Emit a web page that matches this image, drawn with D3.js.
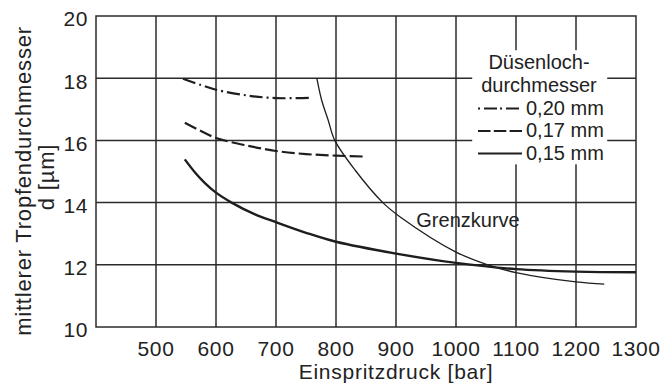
<!DOCTYPE html>
<html>
<head>
<meta charset="utf-8">
<script src="https://cdn.jsdelivr.net/npm/d3@7"></script>
<style>
  body { margin: 0; background: #fff; }
  text { font-family: "Liberation Sans", Arial, sans-serif; fill: #222; }
</style>
</head>
<body>
<svg id="chart" width="672" height="383"></svg>
<script>
// tick values
const xTicks = [500, 600, 700, 800, 900, 1000, 1100, 1200, 1300];
const yTicks = [10, 12, 14, 16, 18, 20];

// curves (pressure in bar, diameter in µm)
const d020X = [545, 575, 600, 650, 700, 755];
const d020Y = [17.98, 17.78, 17.63, 17.45, 17.36, 17.37];

const d017X = [548, 575, 600, 650, 700, 750, 800, 850];
const d017Y = [16.57, 16.30, 16.08, 15.84, 15.66, 15.56, 15.51, 15.48];

const d015X = [548, 565, 582, 600, 626, 665, 700, 750, 800, 900, 1000, 1100, 1200, 1300];
const d015Y = [15.39, 14.97, 14.62, 14.32, 14.0, 13.62, 13.37, 13.03, 12.74, 12.36, 12.06, 11.86, 11.78, 11.76];

const grenzX = [768, 776, 787, 798, 832, 878, 907, 1000, 1053, 1100, 1200, 1247];
const grenzY = [18.0, 17.3, 16.65, 16.0, 15.04, 14.0, 13.54, 12.41, 12.0, 11.75, 11.45, 11.38];

const legendLabels = ["0,20 mm", "0,17 mm", "0,15 mm"];
const legendDash = ["13,4,2,4", "13,4", null];

const svg = d3.select("#chart");
const margin = { left: 96, right: 36, top: 16, bottom: 56 };
const width = 672 - margin.left - margin.right;
const height = 383 - margin.top - margin.bottom;

const x = d3.scaleLinear().domain([400, 1300]).range([margin.left, margin.left + width]);
const y = d3.scaleLinear().domain([10, 20]).range([margin.top + height, margin.top]);

const gridColor = "#2b2b2b";

// grid
svg.append("g").selectAll("line.v")
  .data(xTicks.slice(0, -1))
  .join("line")
  .attr("x1", (d) => x(d)).attr("x2", (d) => x(d))
  .attr("y1", y(10)).attr("y2", y(20))
  .attr("stroke", gridColor).attr("stroke-width", 1.5);

svg.append("g").selectAll("line.h")
  .data(yTicks.slice(1, -1))
  .join("line")
  .attr("x1", x(400)).attr("x2", x(1300))
  .attr("y1", (d) => y(d)).attr("y2", (d) => y(d))
  .attr("stroke", gridColor).attr("stroke-width", 1.5);

// legend background hides the grid
svg.append("rect")
  .attr("x", x(1027)).attr("y", y(18.9))
  .attr("width", x(1252) - x(1027)).attr("height", y(15.23) - y(18.9))
  .attr("fill", "#fff");

// frame
svg.append("rect")
  .attr("x", x(400)).attr("y", y(20))
  .attr("width", width).attr("height", height)
  .attr("fill", "none").attr("stroke", gridColor).attr("stroke-width", 1.5);

// tick labels
svg.append("g").selectAll("text")
  .data(xTicks)
  .join("text")
  .attr("x", (d) => x(d)).attr("y", y(10) + 29)
  .attr("text-anchor", "middle")
  .style("font-size", "21px").style("letter-spacing", "0.6px")
  .text((d) => d);

svg.append("g").selectAll("text")
  .data(yTicks)
  .join("text")
  .attr("x", x(400) - 8).attr("y", (d) => y(d) + 3)
  .attr("dy", "0.35em")
  .attr("text-anchor", "end")
  .style("font-size", "21px").style("letter-spacing", "0.6px")
  .text((d) => d);

// axis titles
svg.append("text")
  .attr("x", 396).attr("y", 379)
  .attr("text-anchor", "middle")
  .style("font-size", "21px").style("letter-spacing", "0.75px")
  .text("Einspritzdruck [bar]");

svg.append("text")
  .attr("transform", "translate(31,181) rotate(-90)")
  .attr("text-anchor", "middle")
  .style("font-size", "22px").style("letter-spacing", "0.8px")
  .text("mittlerer Tropfendurchmesser");

svg.append("text")
  .attr("transform", "translate(54,177) rotate(-90)")
  .attr("text-anchor", "middle")
  .style("font-size", "22px").style("letter-spacing", "0.8px")
  .text("d [µm]");

// curves
const line = d3.line()
  .x((d) => x(d[0]))
  .y((d) => y(d[1]))
  .curve(d3.curveCatmullRom.alpha(0.5));

const series = [
  { xs: d020X, ys: d020Y, dash: legendDash[0], w: 2.2 },
  { xs: d017X, ys: d017Y, dash: legendDash[1], w: 2.2 },
  { xs: d015X, ys: d015Y, dash: legendDash[2], w: 2.4 },
  { xs: grenzX, ys: grenzY, dash: null, w: 1.3 },
];

series.forEach((s) => {
  const pts = s.xs.map((v, i) => [v, s.ys[i]]);
  svg.append("path")
    .datum(pts)
    .attr("d", line)
    .attr("fill", "none")
    .attr("stroke", "#1e1e1e")
    .attr("stroke-width", s.w)
    .attr("stroke-dasharray", s.dash);
});

svg.append("text")
  .attr("x", 468).attr("y", 227)
  .attr("text-anchor", "middle")
  .style("font-size", "20px")
  .text("Grenzkurve");

// legend
const legend = svg.append("g");
legend.append("text")
  .attr("x", 539).attr("y", 69)
  .attr("text-anchor", "middle")
  .style("font-size", "20px")
  .text("Düsenloch-");
legend.append("text")
  .attr("x", 539).attr("y", 91.5)
  .attr("text-anchor", "middle")
  .style("font-size", "20px")
  .text("durchmesser");

legendLabels.forEach((lbl, i) => {
  const ly = 108.5 + i * 22.5;
  legend.append("line")
    .attr("x1", 478).attr("x2", 522)
    .attr("y1", ly).attr("y2", ly)
    .attr("stroke", "#1e1e1e")
    .attr("stroke-width", 2.2)
    .attr("stroke-dasharray", i === 0 ? "2,4,13,3" : legendDash[i] ? "12.5,3.3" : null);
  legend.append("text")
    .attr("x", 526).attr("y", ly + 6)
    .style("font-size", "20px")
    .text(lbl);
});
</script>
</body>
</html>
